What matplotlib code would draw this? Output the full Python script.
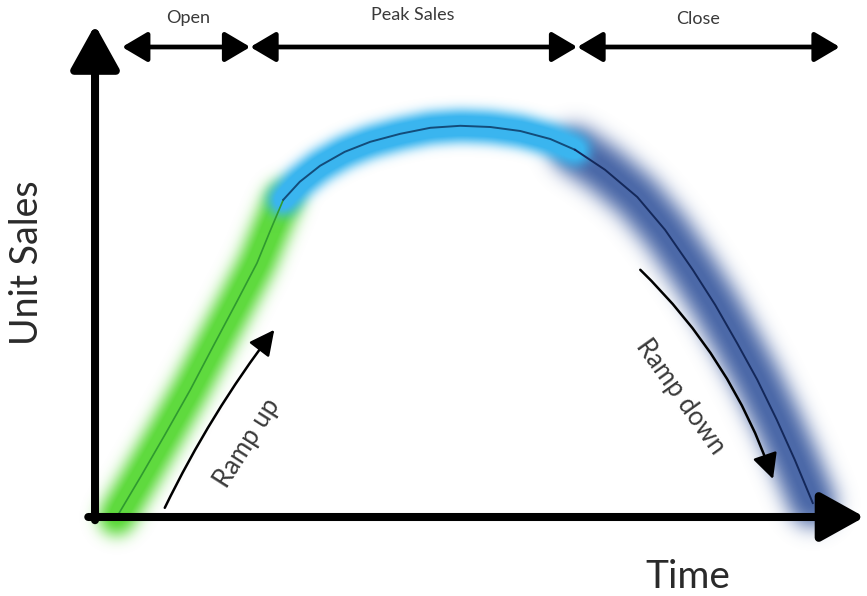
import matplotlib
matplotlib.use("Agg")
import matplotlib.pyplot as plt
import numpy as np

# ---- data (time, unit sales) ----
ramp_t = [2.9, 6.0, 9.3, 12.7, 15.7, 18.9, 21.6, 23.3, 25.1]
ramp_s = [0.0, 9.8, 20.5, 31.8, 42.5, 53.8, 63.5, 71.3, 79.3]

peak_t = [25.1, 27.3, 30.0, 33.3, 36.7, 40.7, 44.7, 48.7, 52.7, 56.7, 60.7, 64.0]
peak_s = [79.3, 83.8, 87.8, 91.3, 93.8, 95.8, 97.3, 97.8, 97.5, 96.5, 94.5, 91.8]

close_t = [64.0, 68.0, 72.3, 76.0, 79.7, 82.7, 85.6, 88.3, 90.9, 93.3, 95.7]
close_s = [91.8, 86.8, 80.0, 71.8, 61.8, 53.0, 43.5, 34.3, 24.3, 14.3, 3.5]

phase_labels = ["Open", "Peak Sales", "Close"]
phase_edges = [3.6, 20.7, 64.3, 99.3]

TXT = "#3a3a3a"
FONT = ["Lato", "DejaVu Sans"]
W, H, DPI = 8.67, 5.96, 100
XLIM = (-12.67, 102.93)
YLIM = (-19.75, 129.25)


def new_axes():
    f = plt.figure(figsize=(W, H), dpi=DPI)
    a = f.add_axes([0, 0, 1, 1])
    a.set_xlim(*XLIM)
    a.set_ylim(*YLIM)
    a.axis("off")
    return f, a


def blur(img, sigma):
    r = int(3 * sigma)
    x = np.arange(-r, r + 1)
    k = np.exp(-0.5 * (x / sigma) ** 2)
    k /= k.sum()
    out = img.copy()
    for axis in (0, 1):
        pad = [(0, 0)] * img.ndim
        pad[axis] = (r, r)
        p = np.pad(out, pad, mode="constant")
        acc = np.zeros_like(out)
        n = out.shape[axis]
        for i, w in enumerate(k):
            sl = [slice(None)] * img.ndim
            sl[axis] = slice(i, i + n)
            acc += w * p[tuple(sl)]
        out = acc
    return out


def glow_layer(t, s, color, lw, sigma, gain):
    f, a = new_axes()
    f.patch.set_alpha(0)
    a.plot(t, s, color=color, lw=lw, solid_capstyle="round",
           solid_joinstyle="round")
    f.canvas.draw()
    buf = np.asarray(f.canvas.buffer_rgba()).astype(float) / 255.0
    plt.close(f)
    alpha = np.clip(blur(buf[..., 3], sigma) * gain, 0, 1)
    rgb = np.array(matplotlib.colors.to_rgb(color))
    return rgb, alpha


layers = [
    glow_layer(close_t, close_s, "#4c69a8", 34, 10, 1.05),
    glow_layer(ramp_t, ramp_s, "#5fda3e", 26, 8, 1.15),
    glow_layer(peak_t, peak_s, "#3ab5ef", 22, 6, 1.2),
]
Hp, Wp = layers[0][1].shape
prem = np.zeros((Hp, Wp, 3))
acc_a = np.zeros((Hp, Wp))
for rgb, a_ in layers:
    prem = prem * (1 - a_[..., None]) + rgb[None, None, :] * a_[..., None]
    acc_a = acc_a * (1 - a_) + a_
img = np.zeros((Hp, Wp, 4))
img[..., :3] = np.where(acc_a[..., None] > 1e-6,
                        prem / np.maximum(acc_a[..., None], 1e-6), 1)
img[..., 3] = acc_a

fig, ax = new_axes()
ax.imshow(img, extent=(XLIM[0], XLIM[1], YLIM[0], YLIM[1]), origin="upper",
          interpolation="nearest", aspect="auto", zorder=1)
ax.set_xlim(*XLIM)
ax.set_ylim(*YLIM)

ax.plot(ramp_t, ramp_s, color="#2f9a2f", lw=1.2, zorder=3)
ax.plot(peak_t, peak_s, color="#134c7a", lw=1.4, zorder=3)
ax.plot(close_t, close_s, color="#14285a", lw=1.4, zorder=3)

# ---- axes arrows ----
ax.annotate("", xy=(0, 123.0), xytext=(0, -0.8),
            arrowprops=dict(arrowstyle="-|>,head_length=1.35,head_width=0.75",
                            lw=5.8, color="black", shrinkA=0, shrinkB=0,
                            mutation_scale=20), zorder=5)
ax.annotate("", xy=(102.6, 0), xytext=(-0.9, 0),
            arrowprops=dict(arrowstyle="-|>,head_length=1.35,head_width=0.75",
                            lw=5.8, color="black", shrinkA=0, shrinkB=0,
                            mutation_scale=20), zorder=5)

# ---- phase arrows ----
phase_y = 117.5
for i, lab in enumerate(phase_labels):
    a, b = phase_edges[i], phase_edges[i + 1]
    ax.annotate("", xy=(b, phase_y), xytext=(a, phase_y),
                arrowprops=dict(arrowstyle="<|-|>,head_length=1.1,head_width=0.65",
                                lw=3.4, color="black", shrinkA=0, shrinkB=0,
                                mutation_scale=14), zorder=5)
label_pos = [(12.4, 124.8), (42.4, 125.6), (80.4, 124.4)]
for lab, (x, y) in zip(phase_labels, label_pos):
    ax.text(x, y, lab, ha="center", va="center", fontsize=13,
            color=TXT, family=FONT)

# ---- ramp annotations ----
ax.annotate("", xy=(23.9, 46.8), xytext=(9.3, 2.3),
            arrowprops=dict(arrowstyle="-|>,head_length=1.1,head_width=0.55",
                            lw=1.8, color="black", shrinkA=0, shrinkB=0,
                            mutation_scale=14,
                            connectionstyle="arc3,rad=-0.05"), zorder=5)
ax.annotate("", xy=(90.4, 9.5), xytext=(72.7, 61.8),
            arrowprops=dict(arrowstyle="-|>,head_length=1.1,head_width=0.55",
                            lw=1.8, color="black", shrinkA=0, shrinkB=0,
                            mutation_scale=14,
                            connectionstyle="arc3,rad=-0.12"), zorder=5)
ax.text(20.3, 18.5, "Ramp up", rotation=57.5, ha="center", va="center",
        fontsize=18.5, color=TXT, family=FONT, rotation_mode="anchor")
ax.text(78.0, 30.0, "Ramp down", rotation=-54.5, ha="center", va="center",
        fontsize=18.5, color=TXT, family=FONT, rotation_mode="anchor")

# ---- axis titles ----
ax.text(-9.1, 63.5, "Unit Sales", rotation=90, ha="center", va="center",
        fontsize=27, color="#2a2a2a", family=FONT)
ax.text(79.0, -15.0, "Time", ha="center", va="center",
        fontsize=28, color="#2a2a2a", family=FONT)

fig.savefig("out.png", dpi=DPI, facecolor="white")
